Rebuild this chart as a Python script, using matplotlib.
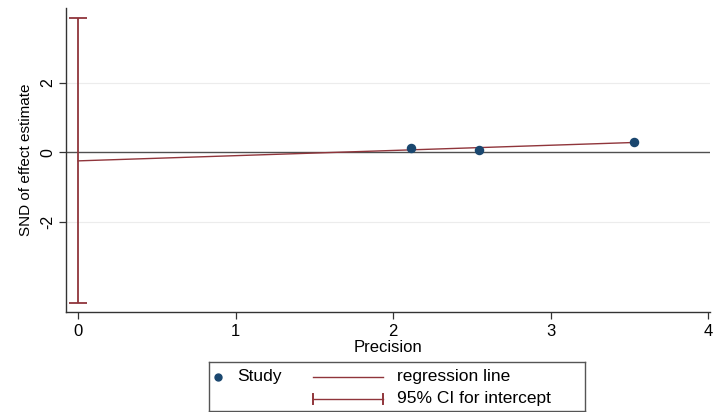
import matplotlib
matplotlib.use("Agg")
import matplotlib.pyplot as plt
from matplotlib.lines import Line2D

plt.rcParams['font.family'] = ['Liberation Sans', 'DejaVu Sans']

# studies (precision, standard normal deviate)
precision = [2.11, 2.545, 3.53]
snd = [0.13, 0.05, 0.305]

# Egger regression
intercept = -0.25
slope = 0.15
ci_low = -4.34
ci_high = 3.86

navy = '#1a476f'
maroon = '#90353b'

fig = plt.figure(figsize=(7.2, 4.12), dpi=100)
ax = fig.add_axes([66 / 720, 1 - 312 / 412, 644 / 720, 304 / 412])

ax.set_xlim(-0.077, 4.01)
ax.set_ylim(-4.6, 4.15)

for g in [-2, 2]:
    ax.axhline(g, color='#ececec', lw=0.8, zorder=0)
ax.axhline(0, color='#505050', lw=1.0, zorder=1)

xs = [0, max(precision)]
ax.plot(xs, [intercept + slope * x for x in xs], color=maroon, lw=1.0, zorder=2)
ax.errorbar([0], [(ci_low + ci_high) / 2], yerr=[[(ci_high - ci_low) / 2]],
            fmt='none', ecolor=maroon, elinewidth=1.3, capsize=6.5, capthick=1.3, zorder=3)
ax.scatter(precision, snd, s=34, color=navy, zorder=4)

ax.set_xticks([0, 1, 2, 3, 4])
ax.set_yticks([-2, 0, 2])
ax.set_yticklabels(['-2', '0', '2'], rotation=90, va='center')
ax.tick_params(axis='x', labelsize=12, length=5, width=0.9, color='#333333', pad=4)
ax.tick_params(axis='y', labelsize=11.5, length=5, width=0.9, color='#333333', pad=3)
ax.set_xlabel('Precision', fontsize=12, labelpad=0)
ax.set_ylabel('SND of effect estimate', fontsize=11, labelpad=5)
for s in ['top', 'right']:
    ax.spines[s].set_visible(False)
for s in ['left', 'bottom']:
    ax.spines[s].set_color('#333333')
    ax.spines[s].set_linewidth(1.0)

# legend box drawn by hand (pixel units inside the box)
lax = fig.add_axes([209 / 720, 1 - 411 / 412, 376 / 720, 49 / 412])
lax.set_xlim(0, 376)
lax.set_ylim(49, 0)
lax.set_xticks([])
lax.set_yticks([])
for s in lax.spines.values():
    s.set_color('#555555')
    s.set_linewidth(1.0)
lax.add_line(Line2D([9], [15], marker='o', markersize=5, color=navy, ls='none'))
lax.text(28, 15, 'Study', fontsize=12.5, va='center')
lax.add_line(Line2D([104, 174], [15, 15], color=maroon, lw=1.0))
lax.text(188, 15, 'regression line', fontsize=12.5, va='center')
lax.add_line(Line2D([104, 174], [37, 37], color=maroon, lw=1.0))
lax.add_line(Line2D([104, 104], [32, 42], color=maroon, lw=1.4))
lax.add_line(Line2D([174, 174], [32, 42], color=maroon, lw=1.4))
lax.text(188, 37, '95% CI for intercept', fontsize=12.5, va='center')

fig.savefig('out.png', dpi=100)
